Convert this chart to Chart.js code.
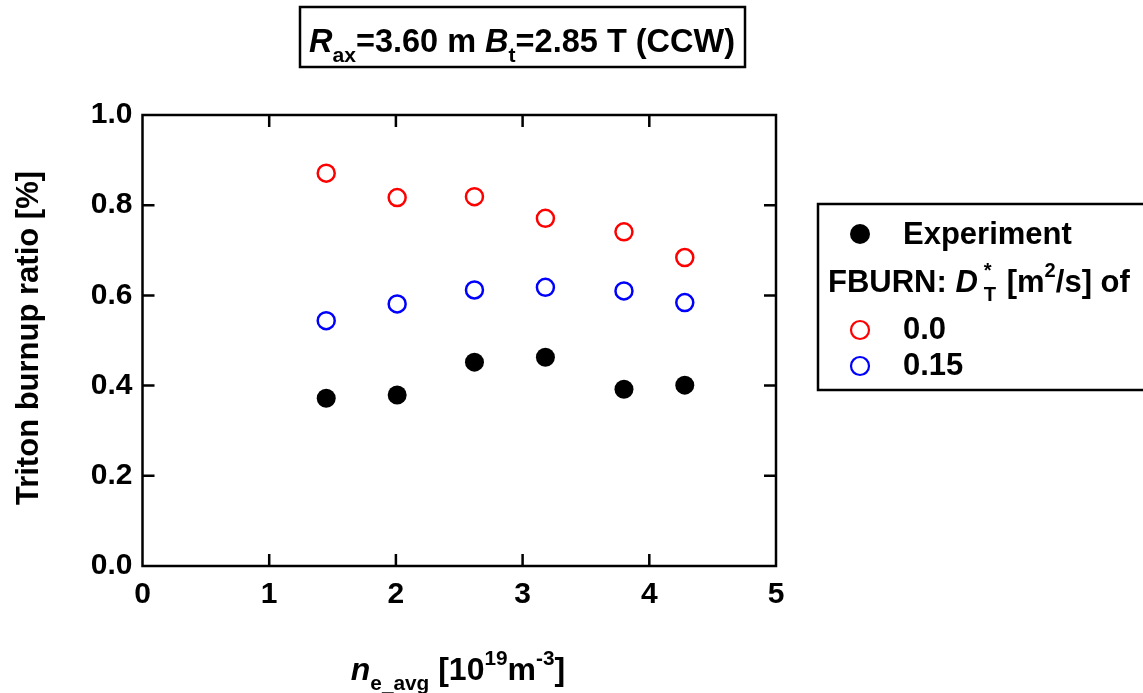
<!DOCTYPE html>
<html>
<head>
<meta charset="utf-8">
<script src="https://cdn.jsdelivr.net/npm/chart.js@4.4.1/dist/chart.umd.min.js"></script>
<style>
  body { margin: 0; background: #fff; }
  #wrap { width: 1143px; height: 693px; position: relative; }
</style>
</head>
<body>
<div id="wrap"><canvas id="myChart"></canvas></div>
<script>
'use strict'

// density n_e_avg [10^19 m^-3]
let densities = [1.45, 2.01, 2.62, 3.18, 3.80, 4.28];
let experiment = [0.372, 0.379, 0.452, 0.463, 0.392, 0.401];
let fburn00 = [0.871, 0.817, 0.819, 0.771, 0.741, 0.684];
let fburn015 = [0.544, 0.581, 0.612, 0.618, 0.610, 0.584];

let xTicks = [0, 1, 2, 3, 4, 5];
let yTicks = [0.0, 0.2, 0.4, 0.6, 0.8, 1.0];

let legendLabels = ['Experiment', '0.0', '0.15'];

const FONT = '"Liberation Sans", Arial, sans-serif';

function toPoints(ys) {
    return densities.map((x, i) => ({ x: x, y: ys[i] }));
}

// draws a run of text pieces: {t, i (italic), pos: 'sub' | 'sup'}
function drawRich(ctx, segs, x, y, size, align) {
    let widths = segs.map(s => {
        let sz = s.pos ? size * 0.65 : size;
        ctx.font = (s.i ? 'italic ' : '') + 'bold ' + sz + 'px ' + FONT;
        return s.stack ? 0 : ctx.measureText(s.t).width + (s.dx || 0);
    });
    let total = widths.reduce((a, b) => a + b, 0);
    let cx = align === 'center' ? x - total / 2 : x;
    ctx.textAlign = 'left';
    ctx.textBaseline = 'alphabetic';
    segs.forEach((s, i) => {
        let sz = s.pos ? size * 0.65 : size;
        ctx.font = (s.i ? 'italic ' : '') + 'bold ' + sz + 'px ' + FONT;
        let dy = 0;
        if (s.pos === 'sub') dy = size * 0.3;
        if (s.pos === 'sup') dy = -size * 0.47;
        ctx.fillText(s.t, cx + (s.dx || 0), y + dy);
        cx += widths[i];
    });
}

const decorations = {
    id: 'decorations',
    afterDraw(chart) {
        let ctx = chart.ctx;
        let area = chart.chartArea;
        let xs = chart.scales.x;
        let ys = chart.scales.y;
        ctx.save();
        ctx.fillStyle = '#000';
        ctx.strokeStyle = '#000';

        // frame with inward ticks
        ctx.lineWidth = 2.5;
        ctx.strokeRect(area.left, area.top, area.right - area.left, area.bottom - area.top);
        let tl = 12;
        ctx.beginPath();
        xTicks.slice(1, -1).forEach(v => {
            let px = xs.getPixelForValue(v);
            ctx.moveTo(px, area.bottom); ctx.lineTo(px, area.bottom - tl);
            ctx.moveTo(px, area.top); ctx.lineTo(px, area.top + tl);
        });
        yTicks.slice(1, -1).forEach(v => {
            let py = ys.getPixelForValue(v);
            ctx.moveTo(area.left, py); ctx.lineTo(area.left + tl, py);
            ctx.moveTo(area.right, py); ctx.lineTo(area.right - tl, py);
        });
        ctx.stroke();

        // title box
        ctx.lineWidth = 2.5;
        ctx.strokeRect(300, 7, 445, 60);
        drawRich(ctx, [
            { t: 'R', i: true }, { t: 'ax', pos: 'sub' }, { t: '=3.60 m ' },
            { t: 'B', i: true }, { t: 't', pos: 'sub' }, { t: '=2.85 T (CCW)' }
        ], 522, 52, 32.5, 'center');

        // axis titles
        drawRich(ctx, [
            { t: 'n', i: true }, { t: 'e_avg', pos: 'sub' }, { t: ' [10' },
            { t: '19', pos: 'sup' }, { t: 'm' }, { t: '-3', pos: 'sup' }, { t: ']' }
        ], 458, 680, 32, 'center');

        ctx.save();
        ctx.translate(38, 338);
        ctx.rotate(-Math.PI / 2);
        ctx.font = 'bold 31px ' + FONT;
        ctx.textAlign = 'center';
        ctx.textBaseline = 'alphabetic';
        ctx.fillText('Triton burnup ratio [%]', 0, 0);
        ctx.restore();

        // legend
        ctx.lineWidth = 2.5;
        ctx.strokeRect(818, 204, 400, 186);
        let ds = chart.data.datasets;
        let rows = [
            { y: 234, base: 244, d: ds[0] },
            { y: 330, base: 339, d: ds[1] },
            { y: 366, base: 375, d: ds[2] }
        ];
        rows.forEach((r, i) => {
            ctx.beginPath();
            ctx.arc(860, r.y, i === 0 ? 10 : 9, 0, Math.PI * 2);
            if (i === 0) {
                ctx.fillStyle = r.d.backgroundColor;
                ctx.fill();
            } else {
                ctx.lineWidth = 2.2;
                ctx.strokeStyle = r.d.borderColor;
                ctx.stroke();
            }
            ctx.fillStyle = '#000';
            ctx.font = 'bold 31px ' + FONT;
            ctx.textAlign = 'left';
            ctx.fillText(legendLabels[i], 903, r.base);
        });
        drawRich(ctx, [
            { t: 'FBURN: ' }, { t: 'D', i: true },
            { t: '*', pos: 'sup', stack: true, dx: 6 }, { t: 'T', pos: 'sub', dx: 6 },
            { t: ' [m', dx: 2 }, { t: '2', pos: 'sup' }, { t: '/s] of' }
        ], 828, 292, 31, 'left');

        ctx.restore();
    }
};

let ctx = document.getElementById('myChart').getContext('2d');
let myChart = new Chart(ctx, {
    type: 'scatter',
    data: {
        datasets: [{
            label: legendLabels[0],
            data: toPoints(experiment),
            pointRadius: 9.5,
            pointBorderWidth: 0,
            backgroundColor: '#000000',
            borderColor: '#000000'
        }, {
            label: legendLabels[1],
            data: toPoints(fburn00),
            pointRadius: 8.5,
            pointBorderWidth: 2.5,
            backgroundColor: 'rgba(0,0,0,0)',
            borderColor: '#ff0000'
        }, {
            label: legendLabels[2],
            data: toPoints(fburn015),
            pointRadius: 8.5,
            pointBorderWidth: 2.5,
            backgroundColor: 'rgba(0,0,0,0)',
            borderColor: '#0000ff'
        }]
    },
    options: {
        responsive: true,
        maintainAspectRatio: false,
        animation: false,
        layout: { padding: { top: 115, right: 367, left: 0, bottom: 0 } },
        plugins: {
            legend: { display: false },
            tooltip: { enabled: false }
        },
        scales: {
            x: {
                type: 'linear',
                min: xTicks[0],
                max: xTicks[xTicks.length - 1],
                afterBuildTicks(scale) { scale.ticks = xTicks.map(v => ({ value: v })); },
                afterFit(scale) { scale.height = 693 - 566; },
                grid: { display: false, drawTicks: false },
                border: { display: false },
                ticks: {
                    padding: 11,
                    color: '#000',
                    font: { family: FONT, size: 30, weight: 'bold' },
                    callback: v => String(v)
                }
            },
            y: {
                type: 'linear',
                min: yTicks[0],
                max: yTicks[yTicks.length - 1],
                afterBuildTicks(scale) { scale.ticks = yTicks.map(v => ({ value: v })); },
                afterFit(scale) { scale.width = 142.5; },
                grid: { display: false, drawTicks: false },
                border: { display: false },
                ticks: {
                    padding: 10,
                    color: '#000',
                    font: { family: FONT, size: 30, weight: 'bold' },
                    callback: v => v.toFixed(1)
                }
            }
        }
    },
    plugins: [decorations]
})
</script>
</body>
</html>
